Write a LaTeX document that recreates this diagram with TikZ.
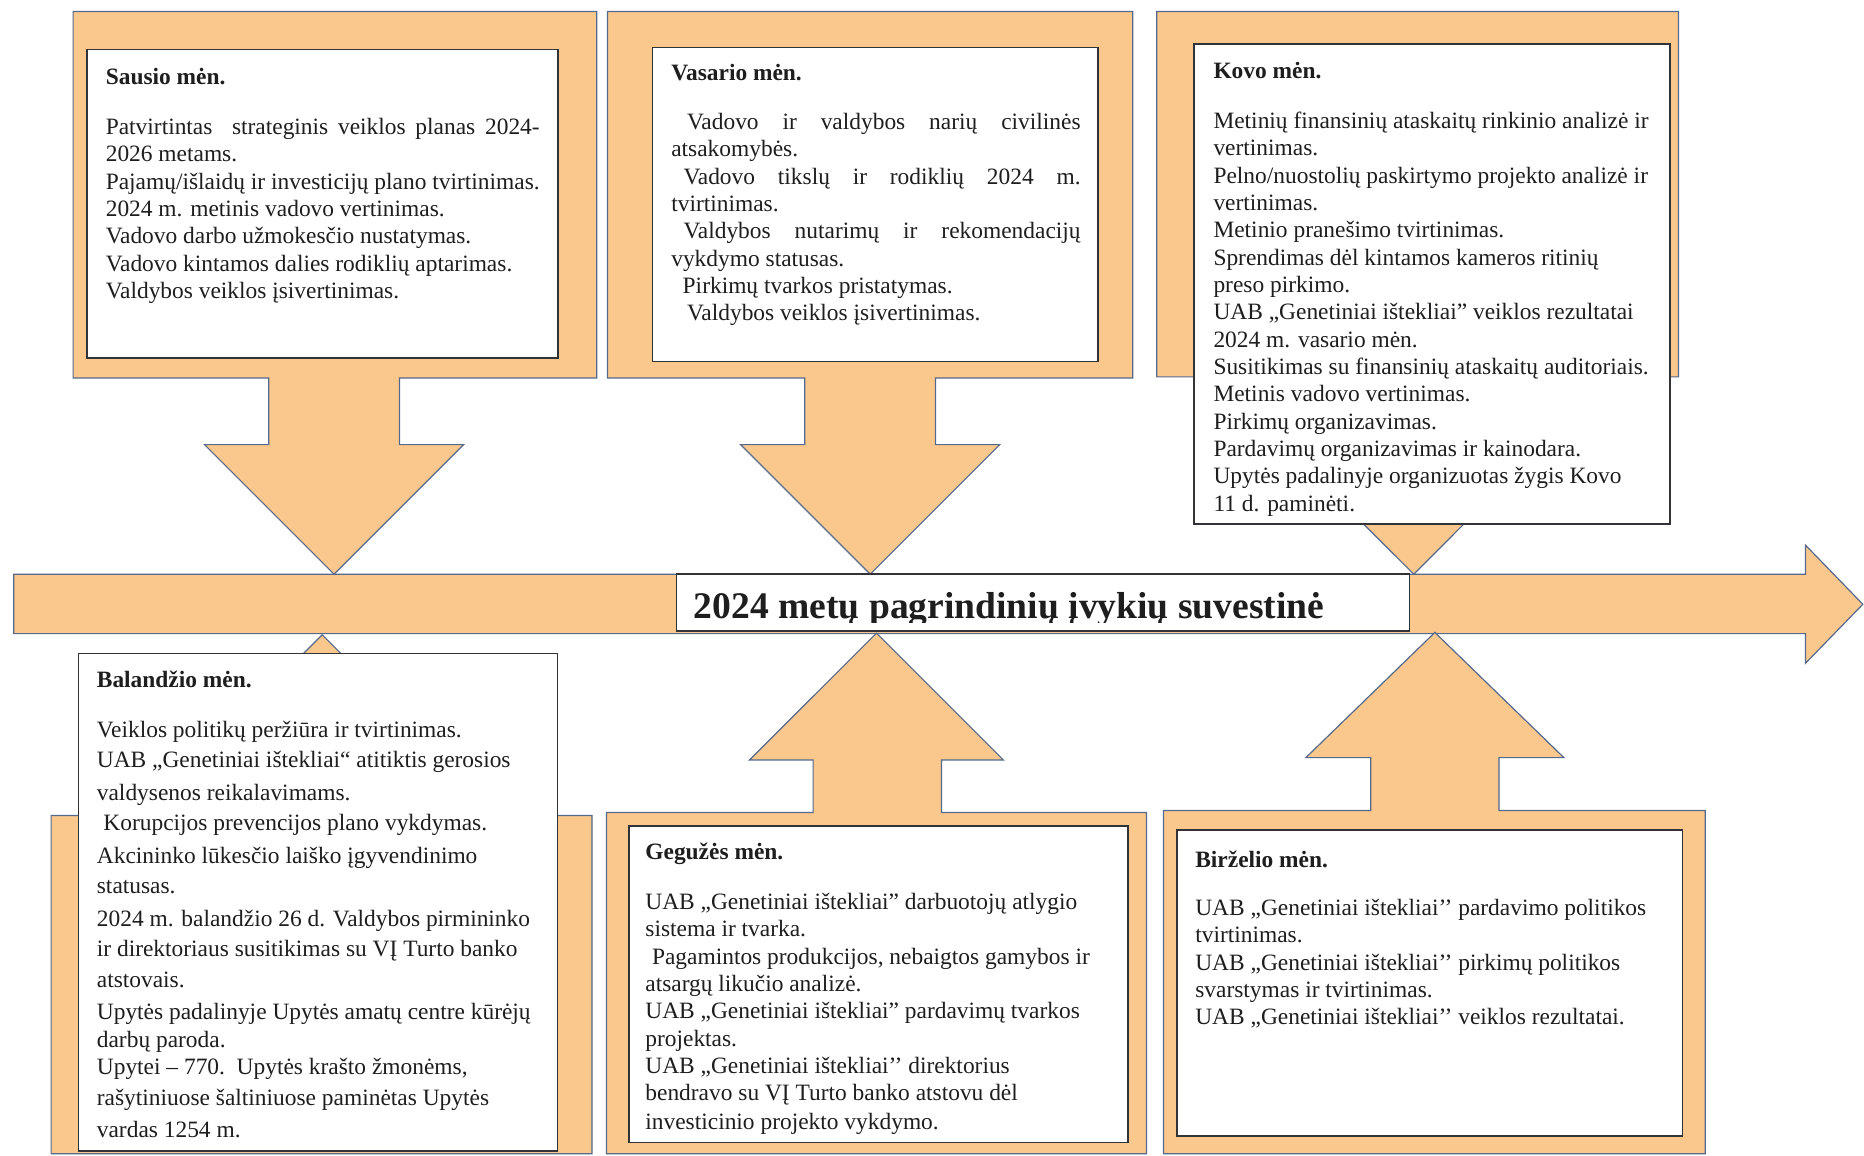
\documentclass[tikz,border=0pt]{standalone}
\usepackage{fontspec}
\setmainfont{Liberation Serif}
\definecolor{orfill}{RGB}{250,200,140}
\definecolor{orline}{RGB}{85,105,140}
\definecolor{boxline}{RGB}{50,50,55}
\definecolor{textcol}{RGB}{30,30,30}
\newcommand\mline[4]{\node[bodytxt] (#1) at (#2,#3) {#4};}
\newcommand\mhead[4]{\node[headtxt] (#1) at (#2,#3) {#4};}
\tikzset{
  orshape/.style={fill=orfill, draw=orline, line width=1pt, line join=miter},
  whitebox/.style={fill=white, draw=boxline, line width=1.3pt},
  bodytxt/.style={anchor=base west, inner sep=0pt, outer sep=0pt,
    font=\fontsize{19.7}{23}\selectfont, text=textcol},
  headtxt/.style={bodytxt, font=\fontsize{19.7}{23}\selectfont\bfseries},
  titletxt/.style={anchor=base west, inner sep=0pt, outer sep=0pt,
    font=\fontsize{31.6}{36}\selectfont\bfseries, text=textcol}
}
\begin{document}
\begin{tikzpicture}[x=1pt,y=-1pt]
\useasboundingbox (0,0) rectangle (1568,972);
\fill[white] (0,0) rectangle (1568,972);

% timeline arrow
\draw[orshape] (11.6,483) -- (1518.7,483) -- (1518.7,458.5) -- (1567,508.3)
  -- (1518.7,558) -- (1518.7,533) -- (11.6,533) -- cycle;

% top callouts
\draw[orshape] (61.5,9.7) -- (502,9.7) -- (502,318) -- (336,318) -- (336,374)
  -- (390,374) -- (281,483) -- (172,374) -- (226,374) -- (226,318) -- (61.5,318) -- cycle;
\draw[orshape] (511,9.7) -- (952.8,9.7) -- (952.8,318) -- (787,318) -- (787,374)
  -- (841,374) -- (732,483) -- (623,374) -- (677,374) -- (677,318) -- (511,318) -- cycle;
\draw[orshape] (973,9.7) -- (1412,9.7) -- (1412,317) -- (1244,317) -- (1244,374)
  -- (1298,374) -- (1189.3,483) -- (1080,374) -- (1134,374) -- (1134,317) -- (973,317) -- cycle;

% bottom callouts
\draw[orshape] (43,970.5) -- (43,686) -- (216,686) -- (216,643) -- (162,643)
  -- (271,534) -- (380,643) -- (326,643) -- (326,686) -- (498,686) -- (498,970.5) -- cycle;
\draw[orshape] (510.2,970.5) -- (510.2,683.5) -- (684,683.5) -- (684,639.3) -- (630.5,639.3)
  -- (737.3,532.6) -- (844,639.3) -- (792,639.3) -- (792,683.5) -- (964.4,683.5) -- (964.4,970.5) -- cycle;
\draw[orshape] (978.7,970.5) -- (978.7,681.8) -- (1153,681.8) -- (1153,637.3) -- (1098.5,637.3)
  -- (1207,532) -- (1315.5,637.3) -- (1261,637.3) -- (1261,681.8) -- (1434.5,681.8) -- (1434.5,970.5) -- cycle;

% white boxes
\draw[whitebox] (73.2,41.8) rectangle (469.6,301);
\draw[whitebox] (549,40) rectangle (923.7,304);
\draw[whitebox] (1004.4,37) rectangle (1405,441);
\draw[whitebox] (65.9,549.9) rectangle (469,968);
\draw[whitebox] (528.9,695) rectangle (948.8,961);
\draw[whitebox] (990.2,698.3) rectangle (1415.3,955.6);
\draw[whitebox] (569.1,482.8) rectangle (1185.5,530.7);

% title
\begin{scope}
\clip (569.1,482.8) rectangle (1185.5,524);
\node[titletxt] (title) at (583.7,520) {2024 metų pagrindinių įvykių suvestinė};
\end{scope}

% Sausio
\mhead{s0}{89}{71}{Sausio mėn.}
\mline{s1}{89}{113}{\makebox[365pt][s]{Patvirtintas\ \ strateginis veiklos planas 2024-}}
\mline{s2}{89}{136}{2026 metams.}
\mline{s3}{89}{159}{Pajamų/išlaidų ir investicijų plano tvirtinimas.}
\mline{s4}{89}{182}{2024 m. metinis vadovo vertinimas.}
\mline{s5}{89}{205}{Vadovo darbo užmokesčio nustatymas.}
\mline{s6}{89}{228}{Vadovo kintamos dalies rodiklių aptarimas.}
\mline{s7}{89}{251}{Valdybos veiklos įsivertinimas.}

% Vasario
\mhead{v0}{564.7}{68}{Vasario mėn.}
\mline{v1}{578}{109}{\makebox[331pt][s]{Vadovo ir valdybos narių civilinės}}
\mline{v2}{564.7}{132}{atsakomybės.}
\mline{v3}{575}{155}{\makebox[334pt][s]{Vadovo tikslų ir rodiklių 2024 m.}}
\mline{v4}{564.7}{178}{tvirtinimas.}
\mline{v5}{575}{201}{\makebox[334pt][s]{Valdybos nutarimų ir rekomendacijų}}
\mline{v6}{564.7}{224}{vykdymo statusas.}
\mline{v7}{574.3}{247}{Pirkimų tvarkos pristatymas.}
\mline{v8}{578}{270}{Valdybos veiklos įsivertinimas.}

% Kovo
\mhead{k0}{1020.8}{66}{Kovo mėn.}
\mline{k1}{1020.8}{108}{Metinių finansinių ataskaitų rinkinio analizė ir}
\mline{k2}{1020.8}{131}{vertinimas.}
\mline{k3}{1020.8}{154}{Pelno/nuostolių paskirtymo projekto analizė ir}
\mline{k4}{1020.8}{177}{vertinimas.}
\mline{k5}{1020.8}{200}{Metinio pranešimo tvirtinimas.}
\mline{k6}{1020.8}{223}{Sprendimas dėl kintamos kameros ritinių}
\mline{k7}{1020.8}{246}{preso pirkimo.}
\mline{k8}{1020.8}{269}{UAB „Genetiniai ištekliai” veiklos rezultatai}
\mline{k9}{1020.8}{292}{2024 m. vasario mėn.}
\mline{k10}{1020.8}{315}{Susitikimas su finansinių ataskaitų auditoriais.}
\mline{k11}{1020.8}{338}{Metinis vadovo vertinimas.}
\mline{k12}{1020.8}{361}{Pirkimų organizavimas.}
\mline{k13}{1020.8}{384}{Pardavimų organizavimas ir kainodara.}
\mline{k14}{1020.8}{407}{Upytės padalinyje organizuotas žygis Kovo}
\mline{k15}{1020.8}{430}{11 d. paminėti.}

% Balandzio
\mhead{b0}{81.5}{578}{Balandžio mėn.}
\mline{b1}{81.5}{620}{Veiklos politikų peržiūra ir tvirtinimas.}
\mline{b2}{81.5}{646}{UAB „Genetiniai ištekliai“ atitiktis gerosios}
\mline{b3}{81.5}{673}{valdysenos reikalavimams.}
\mline{b4}{87}{699}{Korupcijos prevencijos plano vykdymas.}
\mline{b5}{81.5}{726}{Akcininko lūkesčio laiško įgyvendinimo}
\mline{b6}{81.5}{752}{statusas.}
\mline{b7}{81.5}{779}{2024 m. balandžio 26 d. Valdybos pirmininko}
\mline{b8}{81.5}{805}{ir direktoriaus susitikimas su VĮ Turto banko}
\mline{b9}{81.5}{831}{atstovais.}
\mline{b10}{81.5}{858}{Upytės padalinyje Upytės amatų centre kūrėjų}
\mline{b11}{81.5}{881}{darbų paroda.}
\mline{b12}{81.5}{904}{Upytei – 770.\ \ Upytės krašto žmonėms,}
\mline{b13}{81.5}{930}{rašytiniuose šaltiniuose paminėtas Upytės}
\mline{b14}{81.5}{957}{vardas 1254 m.}

% Geguzes
\mhead{g0}{542.9}{723}{Gegužės mėn.}
\mline{g1}{542.9}{765}{UAB „Genetiniai ištekliai” darbuotojų atlygio}
\mline{g2}{542.9}{788}{sistema ir tvarka.}
\mline{g3}{548.5}{811}{Pagamintos produkcijos, nebaigtos gamybos ir}
\mline{g4}{542.9}{834}{atsargų likučio analizė.}
\mline{g5}{542.9}{857}{UAB „Genetiniai ištekliai” pardavimų tvarkos}
\mline{g6}{542.9}{880}{projektas.}
\mline{g7}{542.9}{903}{UAB „Genetiniai ištekliai’’ direktorius}
\mline{g8}{542.9}{926}{bendravo su VĮ Turto banko atstovu dėl}
\begin{scope}
\clip (528.9,930) rectangle (948.8,953.5);
\mline{g9}{542.9}{950}{investicinio projekto vykdymo.}
\end{scope}

% Birzelio
\mhead{r0}{1005.5}{729.7}{Birželio mėn.}
\mline{r1}{1005.5}{770}{UAB „Genetiniai ištekliai’’ pardavimo politikos}
\mline{r2}{1005.5}{793}{tvirtinimas.}
\mline{r3}{1005.5}{816}{UAB „Genetiniai ištekliai’’ pirkimų politikos}
\mline{r4}{1005.5}{839}{svarstymas ir tvirtinimas.}
\mline{r5}{1005.5}{862}{UAB „Genetiniai ištekliai’’ veiklos rezultatai.}
\end{tikzpicture}
\end{document}
